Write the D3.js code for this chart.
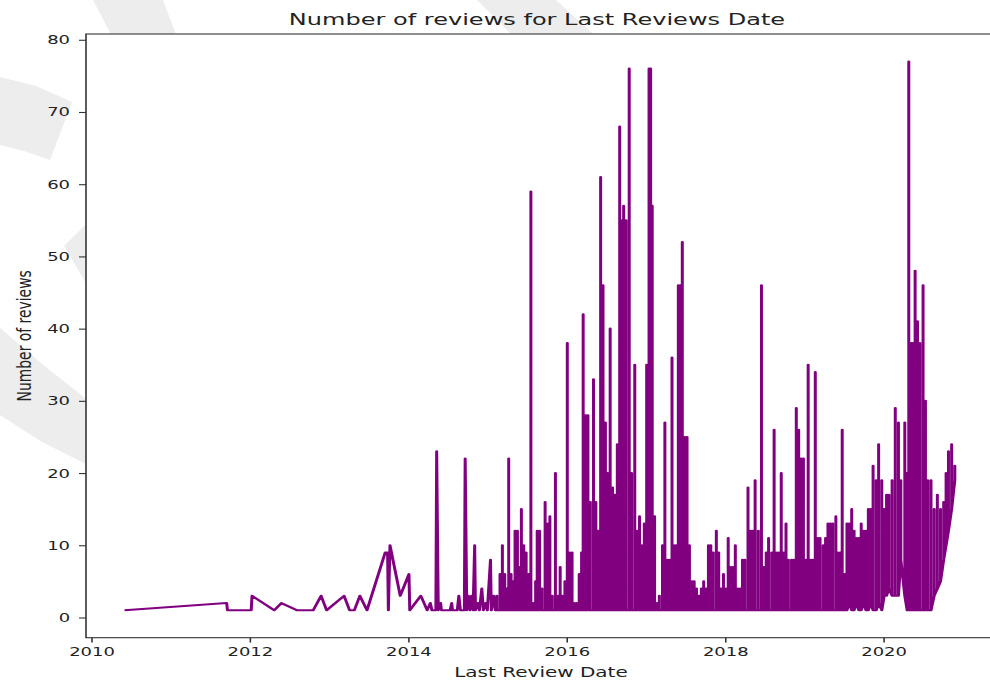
<!DOCTYPE html>
<html>
<head>
<meta charset="utf-8">
<script src="https://cdn.jsdelivr.net/npm/d3@7"></script>
<style>
  body { margin: 0; background: #fff; }
  svg { display: block; }
  text { font-family: "DejaVu Sans", sans-serif; fill: #222; }
</style>
</head>
<body>
<div id="chart"></div>
<script>
// sparse start of the series, points in plotting order (decimal year, reviews)
const earlyYear = [2010.42, 2011.71, 2011.72, 2012.02, 2012.03, 2012.31, 2012.40, 2012.60, 2012.80, 2012.90,
    2012.97, 2013.19, 2013.26, 2013.32, 2013.39, 2013.48, 2013.71, 2013.74, 2013.75, 2013.77,
    2013.90, 2014.01, 2014.02, 2014.16, 2014.24, 2014.28, 2014.30, 2014.35, 2014.36, 2014.38,
    2014.41, 2014.42, 2014.53, 2014.55, 2014.56, 2014.62, 2014.64, 2014.66, 2014.71, 2014.72,
    2014.74, 2014.76, 2014.78, 2014.80, 2014.82, 2014.84, 2014.85, 2014.88, 2014.90, 2014.93,
    2014.95, 2014.98, 2015.00, 2015.04, 2015.05, 2015.08, 2015.10];
const earlyCount = [1, 2, 1, 1, 3, 1, 2, 1, 1, 3,
    1, 3, 1, 1, 3, 1, 9, 9, 1, 10,
    3, 6, 1, 3, 1, 2, 1, 1, 23, 1,
    2, 1, 1, 2, 1, 1, 3, 1, 1, 22,
    1, 3, 1, 3, 1, 10, 1, 2, 1, 4,
    1, 2, 1, 8, 1, 3, 1];

// dense part: many listings share a date, so each date has a lowest and highest count
const denseYear = [2015.12, 2015.16, 2015.19, 2015.22, 2015.25, 2015.27, 2015.30, 2015.33, 2015.35, 2015.38,
    2015.41, 2015.43, 2015.46, 2015.49, 2015.52, 2015.55, 2015.58, 2015.61, 2015.63, 2015.66,
    2015.69, 2015.73, 2015.76, 2015.79, 2015.82, 2015.86, 2015.89, 2015.92, 2015.95, 2015.98,
    2016.01, 2016.04, 2016.07, 2016.10, 2016.13, 2016.16, 2016.19, 2016.21, 2016.24, 2016.27,
    2016.30, 2016.34, 2016.37, 2016.40, 2016.43, 2016.46, 2016.49, 2016.52, 2016.55, 2016.58,
    2016.61, 2016.64, 2016.67, 2016.70, 2016.72, 2016.75, 2016.79, 2016.82, 2016.86, 2016.89,
    2016.92, 2016.95, 2016.98, 2017.01, 2017.04, 2017.06, 2017.08, 2017.11, 2017.14, 2017.17,
    2017.21, 2017.24, 2017.27, 2017.30, 2017.33, 2017.36, 2017.39, 2017.41, 2017.44, 2017.46,
    2017.49, 2017.52, 2017.55, 2017.58, 2017.61, 2017.64, 2017.67, 2017.70, 2017.73, 2017.76,
    2017.79, 2017.82, 2017.85, 2017.89, 2017.92, 2017.95, 2017.98, 2018.01, 2018.04, 2018.07,
    2018.10, 2018.13, 2018.16, 2018.19, 2018.22, 2018.25, 2018.29, 2018.32, 2018.35, 2018.38,
    2018.42, 2018.46, 2018.49, 2018.52, 2018.55, 2018.59, 2018.62, 2018.65, 2018.68, 2018.71,
    2018.74, 2018.77, 2018.80, 2018.84, 2018.87, 2018.90, 2018.93, 2018.96, 2018.99, 2019.02,
    2019.05, 2019.08, 2019.11, 2019.14, 2019.17, 2019.20, 2019.24, 2019.27, 2019.30, 2019.33,
    2019.36, 2019.40, 2019.43, 2019.46, 2019.48, 2019.51, 2019.54, 2019.57, 2019.60, 2019.63,
    2019.66, 2019.69, 2019.72, 2019.75, 2019.78, 2019.81, 2019.84, 2019.87, 2019.91, 2019.94,
    2019.98, 2020.01, 2020.04, 2020.07, 2020.11, 2020.15, 2020.19, 2020.22, 2020.27, 2020.30,
    2020.32, 2020.35, 2020.37, 2020.40, 2020.43, 2020.46, 2020.50, 2020.53, 2020.56, 2020.60,
    2020.64, 2020.68, 2020.72, 2020.76, 2020.79, 2020.82, 2020.86, 2020.90];
const denseHigh = [3, 6, 10, 6, 4, 22, 6, 5, 12, 12,
    7, 15, 10, 9, 6, 59, 2, 5, 12, 12,
    4, 16, 13, 14, 3, 20, 3, 7, 3, 5,
    38, 9, 9, 2, 2, 6, 9, 42, 28, 28,
    16, 33, 16, 12, 61, 46, 27, 20, 40, 18,
    17, 24, 68, 55, 57, 55, 76, 20, 35, 12,
    14, 10, 13, 35, 76, 76, 57, 14, 2, 3,
    10, 27, 8, 8, 36, 10, 10, 46, 46, 52,
    25, 25, 10, 5, 5, 4, 3, 4, 5, 4,
    10, 10, 9, 12, 9, 4, 6, 4, 11, 7,
    7, 10, 4, 4, 8, 8, 18, 12, 12, 19,
    12, 46, 7, 9, 11, 9, 26, 9, 9, 20,
    9, 13, 8, 8, 8, 29, 26, 22, 22, 8,
    35, 8, 8, 34, 11, 11, 10, 11, 13, 13,
    13, 14, 9, 9, 26, 6, 13, 13, 15, 12,
    11, 11, 13, 12, 12, 15, 15, 21, 19, 24,
    19, 15, 17, 17, 19, 29, 27, 19, 27, 20,
    77, 38, 38, 48, 41, 38, 46, 30, 19, 19,
    15, 17, 15, 16, 20, 23, 24, 21];
const denseLow = [1, 1, 1, 1, 1, 1, 1, 1, 1, 1,
    1, 1, 1, 1, 1, 1, 1, 1, 1, 1,
    1, 1, 1, 1, 1, 1, 1, 1, 1, 1,
    1, 1, 1, 1, 1, 1, 1, 1, 1, 1,
    1, 1, 1, 1, 1, 1, 1, 1, 1, 1,
    1, 1, 1, 1, 1, 1, 1, 1, 1, 1,
    1, 1, 1, 1, 1, 1, 1, 1, 1, 1,
    1, 1, 1, 1, 1, 1, 1, 1, 1, 1,
    1, 1, 1, 1, 1, 1, 1, 1, 1, 1,
    1, 1, 1, 1, 1, 1, 1, 1, 1, 1,
    1, 1, 1, 1, 1, 1, 1, 1, 1, 1,
    1, 1, 1, 1, 1, 1, 1, 1, 1, 1,
    1, 1, 1, 1, 1, 1, 1, 1, 1, 1,
    1, 1, 1, 1, 1, 1, 1, 1, 1, 1,
    1, 1, 1, 1, 1, 1, 1, 2, 1, 1,
    2, 1, 1, 2, 1, 1, 2, 1, 1, 2,
    1, 3, 3, 4, 3, 3, 3, 8, 3, 1,
    1, 1, 1, 1, 1, 1, 1, 1, 1, 1,
    3, 4, 5, 8, 10, 12, 15, 19];

const yearTicks = [2010, 2012, 2014, 2016, 2018, 2020];
const countTicks = [0, 10, 20, 30, 40, 50, 60, 70, 80];

const drawChart = function() {
    // the picture is stretched sideways, so draw narrow and let the viewBox widen it
    const SX = 1.44;
    const W = 990, H = 682;
    const plot = {left: 86 / SX, right: 996 / SX, top: 34, bottom: 637.7};

    const toDate = function(yr) {
        const y0 = Math.floor(yr);
        const a = new Date(y0, 0, 1), b = new Date(y0 + 1, 0, 1);
        return new Date(+a + (yr - y0) * (b - a));
    };

    const points = earlyYear.map(function(d, i) { return {date: toDate(d), count: earlyCount[i]}; });
    // each date: up from its lowest count to its highest and back down
    denseYear.forEach(function(d, i) {
        const dt = toDate(d);
        points.push({date: dt, count: denseLow[i]},
                    {date: dt, count: denseHigh[i]},
                    {date: dt, count: denseLow[i]});
    });

    const svg = d3.select("#chart").append("svg")
        .attr("width", W)
        .attr("height", H)
        .attr("viewBox", "0 0 " + (W / SX) + " " + H)
        .attr("preserveAspectRatio", "none");

    // faint watermark swooshes around the axes
    const shade = [
        [[93, 0], [163, 0], [178, 40], [114, 40]],
        [[477, 0], [556, 0], [600, 40], [517, 40]],
        [[0, 77], [36, 86], [72, 102], [50, 160], [24, 151], [0, 145]],
        [[64, 246], [90, 220], [90, 290]],
        [[0, 328], [42, 364], [90, 402], [90, 466], [42, 442], [0, 415]]
    ];
    svg.append("g")
        .attr("transform", "scale(" + (1 / SX) + ",1)")
        .selectAll("path")
        .data(shade)
        .join("path")
        .attr("d", function(d) { return "M" + d.join("L") + "Z"; })
        .attr("fill", "#ededed");

    svg.append("rect")
        .attr("x", plot.left)
        .attr("y", plot.top)
        .attr("width", plot.right - plot.left)
        .attr("height", plot.bottom - plot.top)
        .attr("fill", "#fff");

    const x = d3.scaleTime()
        .domain([toDate(2009.933), toDate(2021.42)])
        .range([plot.left, plot.right]);

    const y = d3.scaleLinear()
        .domain([-2.8, 80.8])
        .range([plot.bottom, plot.top]);

    const reviewLine = d3.line()
        .x(function(d) { return x(d.date); })
        .y(function(d) { return y(d.count); });

    svg.append("path")
        .attr("d", reviewLine(points))
        .attr("fill", "none")
        .attr("stroke", "purple")
        .attr("stroke-width", 2.08)
        .attr("stroke-linejoin", "round");

    // spines (right one falls outside the picture)
    svg.append("rect")
        .attr("x", plot.left)
        .attr("y", plot.top)
        .attr("width", plot.right - plot.left)
        .attr("height", plot.bottom - plot.top)
        .attr("fill", "none")
        .attr("stroke", "#333")
        .attr("stroke-width", 1.1);

    const xAxis = svg.append("g")
        .attr("transform", "translate(0," + plot.bottom + ")")
        .call(d3.axisBottom(x)
            .tickValues(yearTicks.map(toDate))
            .tickFormat(d3.timeFormat("%Y"))
            .tickSize(4.86)
            .tickPadding(4.86));

    const yAxis = svg.append("g")
        .attr("transform", "translate(" + plot.left + ",0)")
        .call(d3.axisLeft(y)
            .tickValues(countTicks)
            .tickSize(4.86)
            .tickPadding(6.2));

    [xAxis, yAxis].forEach(function(g) {
        g.select(".domain").remove();
        g.attr("font-family", null).attr("font-size", null);
        g.selectAll(".tick line").attr("stroke", "#333").attr("stroke-width", 1.1);
        g.selectAll(".tick text").attr("fill", "#222").style("font-size", "12.5px");
    });

    // x axis label
    svg.append("text")
        .attr("x", 541 / SX)
        .attr("y", 677)
        .style("text-anchor", "middle")
        .style("font-size", "13.9px")
        .text("Last Review Date");

    // y axis label
    svg.append("text")
        .attr("transform", "translate(" + (31 / SX) + "," + ((plot.top + plot.bottom) / 2) + ") rotate(-90)")
        .style("text-anchor", "middle")
        .style("font-size", "13.9px")
        .text("Number of reviews");

    // chart title
    svg.append("text")
        .attr("x", 537 / SX)
        .attr("y", 25)
        .style("text-anchor", "middle")
        .style("font-size", "16.7px")
        .text("Number of reviews for Last Reviews Date");
};

drawChart();
</script>
</body>
</html>
